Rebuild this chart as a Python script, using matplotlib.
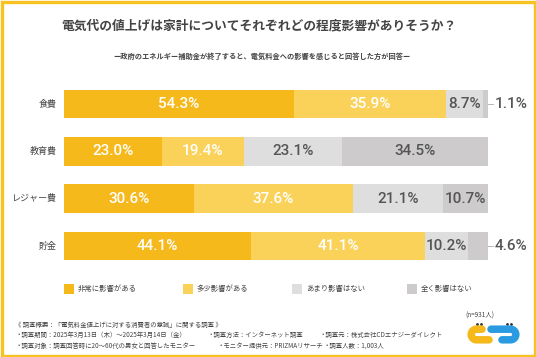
import matplotlib
matplotlib.use("Agg")
import matplotlib.pyplot as plt
from matplotlib.patches import Rectangle
import numpy as np

plt.rcParams['font.family'] = ['Noto Sans CJK JP', 'DejaVu Sans']

categories = ["食費", "教育費", "レジャー費", "貯金"]
series_names = ["非常に影響がある", "多少影響がある", "あまり影響はない", "全く影響はない"]
very = [54.3, 23.0, 30.6, 44.1]
somewhat = [35.9, 19.4, 37.6, 41.1]
little = [8.7, 23.1, 21.1, 10.2]
none_ = [1.1, 34.5, 10.7, 4.6]
series = [very, somewhat, little, none_]
colors = ["#F6B91C", "#FAD25A", "#DEDEDE", "#CDCBCB"]
text_colors = ["white", "white", "#555555", "#555555"]

title = "電気代の値上げは家計についてそれぞれどの程度影響がありそうか？"
subtitle = "ー政府のエネルギー補助金が終了すると、電気料金への影響を感じると回答した方が回答ー"
n_label = "(n=931人)"
notes = [
    [("《 調査概要：「電気料金値上げに対する消費者の意識」に関する調査 》", 15)],
    [("・調査期間：2025年3月13日（木）～2025年3月14日（金）", 15),
     ("・調査方法：インターネット調査", 207),
     ("・調査元：株式会社CDエナジーダイレクト", 320)],
    [("・調査対象：調査回答時に20～60代の男女と回答したモニター", 15),
     ("・モニター提供元：PRIZMAリサーチ", 217),
     ("・調査人数：1,003人", 323)],
]

W, H = 536, 357
fig = plt.figure(figsize=(W / 100, H / 100), dpi=100)
fig.patch.set_facecolor("white")

# overlay axes in pixel coords
ov = fig.add_axes([0, 0, 1, 1])
ov.set_xlim(0, W)
ov.set_ylim(H, 0)
ov.axis("off")
ov.add_patch(Rectangle((1.5, 1.5), W - 3, H - 3, fill=False, edgecolor="#F8C320", linewidth=2.4))

# bar axes
bx0, bx1 = 64, 488
by_top, by_bot = 80, 270
ax = fig.add_axes([bx0 / W, (H - by_bot) / H, (bx1 - bx0) / W, (by_bot - by_top) / H])
ax.set_xlim(0, 100)
ax.set_ylim(3.507, -0.507)
ax.axis("off")
pct_font = dict(fontsize=11, fontweight="medium", family=["Roboto", "DejaVu Sans"])
ypos = np.arange(len(categories))
left = np.zeros(len(categories))
for s, vals in enumerate(series):
    vals = np.array(vals)
    ax.barh(ypos, vals, left=left, height=0.6, color=colors[s], edgecolor="none")
    for i, v in enumerate(vals):
        cx = left[i] + v / 2
        if v >= 5:
            ax.text(cx, ypos[i], f"{v:.1f}%", ha="center", va="center",
                    color=text_colors[s], **pct_font)
        else:
            xe = left[i] + v
            ax.plot([xe, 101.2], [ypos[i], ypos[i]], color="#AAAAAA", lw=0.6, clip_on=False)
            ax.text(101.5, ypos[i], f"{v:.1f}%", ha="left", va="center",
                    color="#555555", **pct_font)
    left = left + vals

for i, c in enumerate(categories):
    ov.text(57, 104 + i * 47.33, c, ha="right", va="center", fontsize=6.5, color="#444444")

# titles
ov.text(W / 2 - 9, 26, title, ha="center", va="center", fontsize=9.2, fontweight="bold", color="#444444")
ov.text(262, 56, subtitle, ha="center", va="center", fontsize=5.2, fontweight="bold", color="#444444")

# legend
leg_x = [64, 183, 292, 407]
for s, name in enumerate(series_names):
    ov.add_patch(Rectangle((leg_x[s], 284), 10, 10, color=colors[s], linewidth=0))
    ov.text(leg_x[s] + 14, 289, name, ha="left", va="center", fontsize=5.3, color="#444444")

# notes
for li, line in enumerate(notes):
    for txt, x in line:
        ov.text(x, 324.5 + li * 10.5, txt, ha="left", va="center", fontsize=4.6, color="#444444")

ov.text(480, 316, n_label, ha="center", va="center", fontsize=4.6, color="#444444")

# logo
r = 5.3
lwl = 5.4
cy = 334.5
th = np.linspace(np.pi / 2, 3 * np.pi / 2, 30)
ycx = 476.5
yx = [482, ycx] + list(ycx + r * np.cos(th)) + [ycx, 489]
yy = [cy - r, cy - r] + list(cy - r * np.sin(th)) + [cy + r, cy + r]
ov.plot(yx, yy, color="#F6B91C", lw=lwl, solid_capstyle="round", solid_joinstyle="round")
th2 = np.linspace(np.pi / 2, -np.pi / 2, 30)
bcx = 510.5
bxs = [491, bcx] + list(bcx + r * np.cos(th2)) + [bcx, 502]
bys = [cy - r, cy - r] + list(cy - r * np.sin(th2)) + [cy + r, cy + r]
ov.plot(bxs, bys, color="#2A9BE0", lw=lwl, solid_capstyle="round", solid_joinstyle="round")
for ex, ey in [(477.5, 324.5), (481.5, 324.5), (507.5, 324.5), (511.5, 324.5)]:
    ov.add_patch(plt.Circle((ex, ey), 0.7, color="#333333"))

fig.savefig("out.png", dpi=100, facecolor="white")
